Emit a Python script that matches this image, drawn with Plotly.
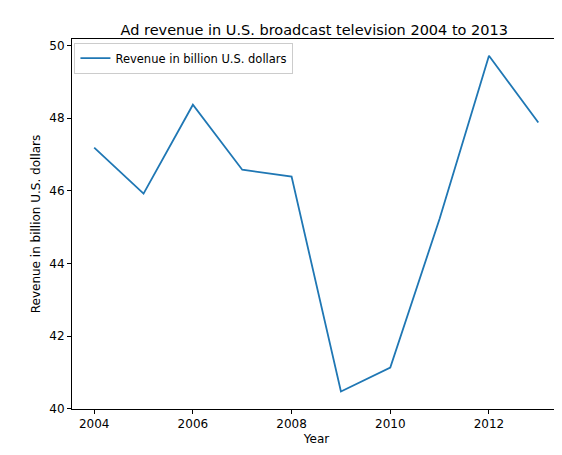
import plotly.graph_objects as go

years = [2004, 2005, 2006, 2007, 2008, 2009, 2010, 2011, 2012, 2013]
revenue = [47.19, 45.92, 48.37, 46.58, 46.39, 40.47, 41.13, 45.23, 49.72, 47.88]

fig = go.Figure(go.Scatter(x=years, y=revenue, mode="lines", name="Revenue in billion U.S. dollars",
                           line=dict(color="#1f77b4", width=1.8)))
axis = dict(showgrid=False, zeroline=False, showline=True, mirror=True, linecolor="black", linewidth=1,
            ticks="outside", ticklen=4, tickcolor="black", tickfont=dict(size=12, color="black"),
            automargin=False)
fig.update_layout(
    width=562, height=455, plot_bgcolor="white", paper_bgcolor="white",
    font=dict(family="DejaVu Sans", color="black"),
    margin=dict(l=64, r=9, t=31, b=54),
    title=dict(text="Ad revenue in U.S. broadcast television 2004 to 2013", x=0.545, xanchor="center",
               y=0.962, font=dict(size=14.5)),
    xaxis=dict(axis, range=[2003.55, 2013.46], tickvals=[2004, 2006, 2008, 2010, 2012],
               title=dict(text="Year", font=dict(size=12), standoff=4)),
    yaxis=dict(axis, range=[39.99, 50.18], tickvals=[40, 42, 44, 46, 48, 50],
               title=dict(text="Revenue in billion U.S. dollars", font=dict(size=12), standoff=6)),
    showlegend=True,
    legend=dict(x=0.005, y=0.99, xanchor="left", yanchor="top", bgcolor="white",
                bordercolor="#cccccc", borderwidth=1, font=dict(size=11.5)),
)
fig.write_html("out.html")
